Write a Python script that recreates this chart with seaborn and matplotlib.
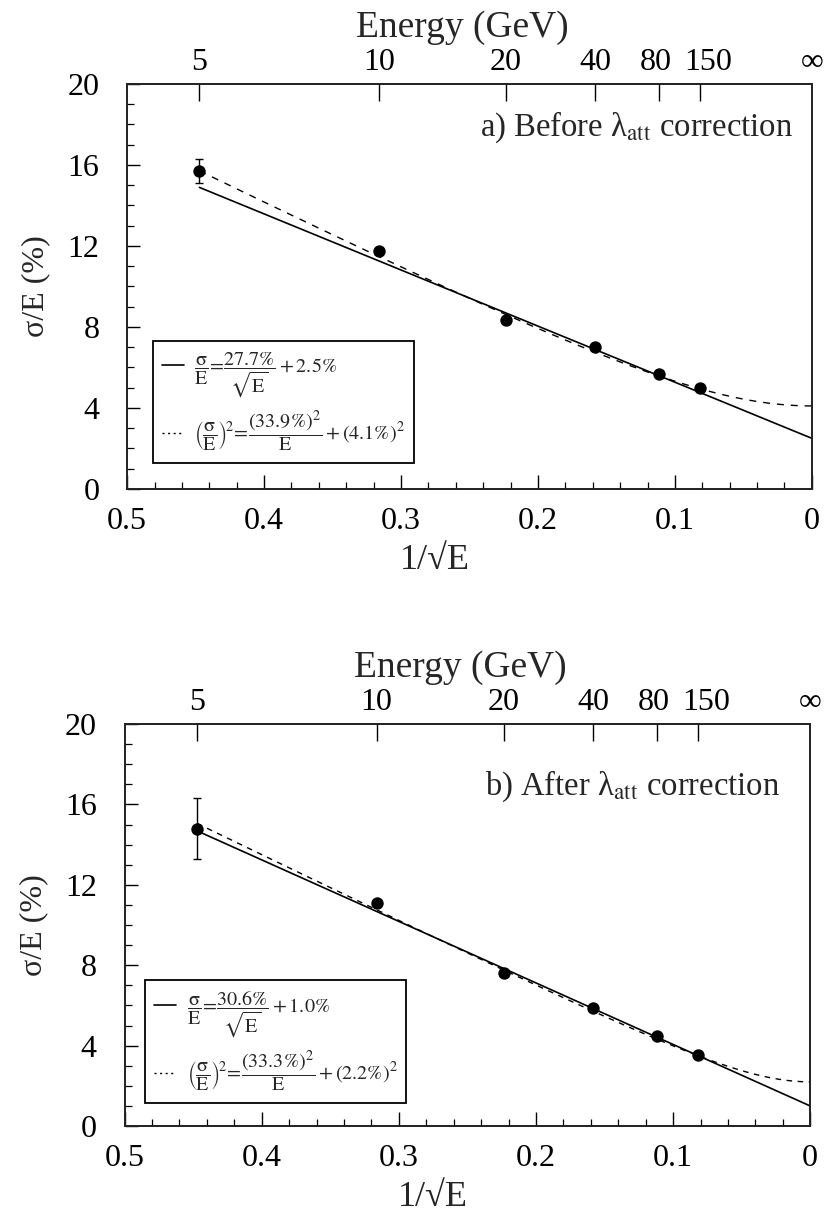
import numpy as np
import pandas as pd
import matplotlib
matplotlib.use("Agg")
import matplotlib.pyplot as plt
import matplotlib.transforms as mtransforms
from matplotlib.lines import Line2D
from matplotlib.ticker import MultipleLocator, FixedLocator
import seaborn as sns

# Beam energies (GeV) and measured energy resolution sigma/E (%)
energies = [5, 10, 20, 40, 80, 150]
before_res = [15.7, 11.75, 8.35, 7.0, 5.7, 5.0]
before_err = [0.6, 0, 0, 0, 0, 0]
after_res = [14.8, 11.1, 7.6, 5.85, 4.5, 3.55]
after_err = [1.5, 0, 0, 0, 0, 0]

# Fit parameters: (stochastic term %, constant term %)
before_lin = (27.7, 2.5)
before_quad = (33.9, 4.1)
after_lin = (30.6, 1.0)
after_quad = (33.3, 2.2)

panel_titles = [r"a) Before λ$_{\mathrm{att}}$ correction",
                r"b) After λ$_{\mathrm{att}}$ correction"]
x_ticks = [0.5, 0.4, 0.3, 0.2, 0.1, 0.0]
x_ticklabels = ["0.5", "0.4", "0.3", "0.2", "0.1", "0"]
y_ticks = [0, 4, 8, 12, 16, 20]
top_ticklabels = ["5", "10", "20", "40", "80", "150", "∞"]

sns.set_theme(style="ticks")
plt.rcParams["font.family"] = ["Liberation Serif", "DejaVu Serif"]
plt.rcParams["mathtext.fontset"] = "stix"
plt.rcParams["axes.linewidth"] = 1.2

fig = plt.figure(figsize=(8.31, 12.24), dpi=100)
ax_a = fig.add_axes([0.153, 0.6005, 0.824, 0.331])
ax_b = fig.add_axes([0.150, 0.080, 0.825, 0.3285])


def lin_label(s, c):
    return (r"$\dfrac{\mathrm{\sigma}}{\mathrm{E}}\!=\!\dfrac{%.1f\%%}{\sqrt{\mathrm{E}}}"
            r" + %.1f\%%$" % (s, c))


def quad_label(s, c):
    return (r"$\left(\dfrac{\mathrm{\sigma}}{\mathrm{E}}\right)^{\!2}\!=\!"
            r"\dfrac{(%.1f\%%)^2}{\mathrm{E}} + (%.1f\%%)^2$" % (s, c))


def draw_panel(ax, res, err, lin, quad, title, leg_anchor, dash):
    x = 1.0 / np.sqrt(np.array(energies, dtype=float))
    pts = pd.DataFrame({"x": x, "res": res, "err": err})

    xs = np.linspace(x[0], 0.0, 200)
    fits = pd.DataFrame({
        "x": np.concatenate([xs, xs]),
        "y": np.concatenate([lin[0] * xs + lin[1],
                             np.sqrt((quad[0] * xs) ** 2 + quad[1] ** 2)]),
        "fit": ["lin"] * len(xs) + ["quad"] * len(xs),
    })
    sns.lineplot(data=fits[fits.fit == "lin"], x="x", y="y", ax=ax,
                 color="black", lw=1.2, sort=False, estimator=None)
    sns.lineplot(data=fits[fits.fit == "quad"], x="x", y="y", ax=ax,
                 color="black", lw=1.0, sort=False, estimator=None,
                 dashes=False, linestyle=(0, dash))

    e = pts[pts.err > 0]
    ax.errorbar(e.x, e.res, yerr=e.err, fmt="none", ecolor="black",
                elinewidth=1.0, capsize=3, capthick=1.0, zorder=3)
    sns.scatterplot(data=pts, x="x", y="res", ax=ax, color="black",
                    s=80, edgecolor="black", linewidth=0, zorder=4)

    ax.set_xlim(0.5, 0.0)
    ax.set_ylim(0, 20)
    ax.xaxis.set_major_locator(FixedLocator(x_ticks))
    ax.set_xticklabels(x_ticklabels)
    ax.xaxis.set_minor_locator(MultipleLocator(0.02))
    ax.yaxis.set_major_locator(FixedLocator(y_ticks))
    ax.yaxis.set_minor_locator(MultipleLocator(1))
    ax.tick_params(axis="both", which="both", direction="in",
                   top=False, right=False, colors="black")
    ax.tick_params(axis="x", which="major", length=10, width=1.0, pad=13,
                   labelsize=23)
    ax.tick_params(axis="x", which="minor", length=5, width=0.9)
    ax.tick_params(axis="y", which="major", length=9, width=1.0, pad=20,
                   labelsize=23)
    ax.tick_params(axis="y", which="minor", length=5, width=0.9)
    for sp in ax.spines.values():
        sp.set_visible(True)
        sp.set_color("black")
        sp.set_linewidth(1.2)
    ax.set_xlabel("1/√E", fontsize=26, labelpad=6, x=0.45)
    ax.set_ylabel("σ/E (%)", fontsize=23, labelpad=12)

    top = ax.twiny()
    top.set_xlim(ax.get_xlim())
    top.xaxis.set_major_locator(FixedLocator(list(x) + [0.0]))
    top.set_xticklabels(top_ticklabels)
    top.tick_params(axis="x", which="major", direction="in", length=12,
                    width=1.0, pad=5, labelsize=23, colors="black")
    top.xaxis.get_major_ticks()[-1].tick2line.set_visible(False)
    # nudge the crowded high-energy labels apart
    for lab in top.get_xticklabels():
        shift = {"80": -3, "150": 8}.get(lab.get_text(), 0)
        if shift:
            lab.set_transform(lab.get_transform() + mtransforms.ScaledTranslation(
                shift / 100.0, 0, fig.dpi_scale_trans))
    top.set_xlabel("Energy (GeV)", fontsize=27, labelpad=8, x=0.49)

    ax.text(title[1][0], title[1][1], title[0], transform=ax.transAxes,
            ha="right", va="center", fontsize=23.5)

    handles = [Line2D([], [], color="black", lw=1.2),
               Line2D([], [], color="black", lw=1.0, linestyle=(0, (1.5, 2.5)))]
    labels = [lin_label(*lin), quad_label(*quad)]
    leg = ax.legend(handles, labels, loc="lower left",
                    bbox_to_anchor=leg_anchor, frameon=True, fancybox=False,
                    edgecolor="black", framealpha=1, fontsize=14.5,
                    handlelength=1.1, handletextpad=0.5, borderpad=0.45,
                    labelspacing=0.5, borderaxespad=0)
    leg.get_frame().set_linewidth(1.3)


draw_panel(ax_a, before_res, before_err, before_lin, before_quad,
           (panel_titles[0], (0.972, 0.894)), (0.038, 0.064), (5, 5))
draw_panel(ax_b, after_res, after_err, after_lin, after_quad,
           (panel_titles[1], (0.956, 0.846)), (0.030, 0.057), (4, 4))

fig.savefig("out.png", dpi=100, facecolor="white")
